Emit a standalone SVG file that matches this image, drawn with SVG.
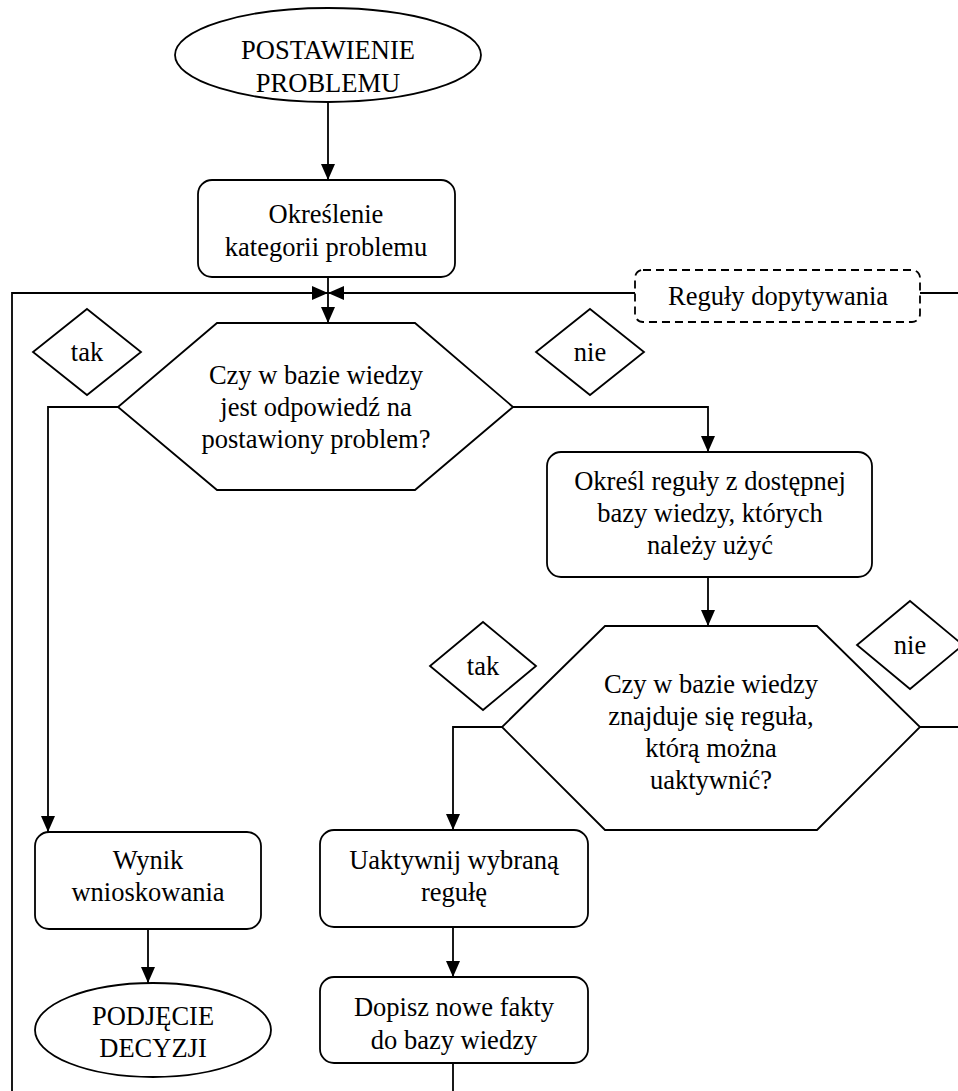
<svg xmlns="http://www.w3.org/2000/svg" width="958" height="1091" viewBox="0 0 958 1091">
<style>
.s{fill:#fff;stroke:#000;stroke-width:1.8}
.d{fill:#fff;stroke:#000;stroke-width:1.8;stroke-dasharray:8 5}
.c{fill:none;stroke:#000;stroke-width:1.8}
text{font-family:"Liberation Serif","Times New Roman",serif;font-size:26.5px;fill:#000;text-anchor:middle}
</style>
<defs>
<marker id="a" markerUnits="userSpaceOnUse" markerWidth="16" markerHeight="14" refX="16" refY="7" orient="auto">
<path d="M0,0 L16,7 L0,14 z" fill="#000"/>
</marker>
</defs>
<rect width="958" height="1091" fill="#fff"/>
<g id="connectors">
<path class="c" d="M328,102 L328,180" marker-end="url(#a)"/>
<path class="c" d="M328,277 L328,323" marker-end="url(#a)"/>
<path class="c" d="M12,1091 L12,293 L328,293" marker-end="url(#a)"/>
<path class="c" d="M635,293 L328,293" marker-end="url(#a)"/>
<path class="c" d="M958,293 L920,293"/>
<path class="c" d="M118,407 L48,407 L48,832" marker-end="url(#a)"/>
<path class="c" d="M513,407 L708,407 L708,452" marker-end="url(#a)"/>
<path class="c" d="M708,577 L708,626" marker-end="url(#a)"/>
<path class="c" d="M502,727 L453,727 L453,830" marker-end="url(#a)"/>
<path class="c" d="M920,727 L958,727"/>
<path class="c" d="M148,929 L148,983" marker-end="url(#a)"/>
<path class="c" d="M453,927 L453,977" marker-end="url(#a)"/>
<path class="c" d="M453,1063 L453,1091"/>
</g>
<g id="start">
<ellipse class="s" cx="328" cy="55" rx="153" ry="47"/>
<text x="328" y="59">POSTAWIENIE</text>
<text x="328" y="92">PROBLEMU</text>
</g>
<g id="category">
<rect class="s" x="198" y="180" width="257" height="97" rx="14"/>
<text x="326" y="223">Określenie</text>
<text x="326" y="256">kategorii problemu</text>
</g>
<g id="rules">
<rect class="d" x="635" y="270" width="285" height="52" rx="8"/>
<text x="778" y="305">Reguły dopytywania</text>
</g>
<g id="decision1">
<polygon class="s" points="217,323 415,323 513,407 415,490 217,490 118,407"/>
<text x="316" y="384">Czy w bazie wiedzy</text>
<text x="316" y="416">jest odpowiedź na</text>
<text x="316" y="448">postawiony problem?</text>
</g>
<g id="tak1">
<polygon class="s" points="87,309 141,352 87,395 33,352"/>
<text x="87" y="361">tak</text>
</g>
<g id="nie1">
<polygon class="s" points="590,309 644,352 590,395 536,352"/>
<text x="590" y="361">nie</text>
</g>
<g id="determine">
<rect class="s" x="547" y="452" width="325" height="125" rx="14"/>
<text x="710" y="490">Określ reguły z dostępnej</text>
<text x="710" y="522">bazy wiedzy, których</text>
<text x="710" y="554">należy użyć</text>
</g>
<g id="decision2">
<polygon class="s" points="605,626 817,626 920,727 817,830 605,830 502,727"/>
<text x="711" y="693">Czy w bazie wiedzy</text>
<text x="711" y="725">znajduje się reguła,</text>
<text x="711" y="757">którą można</text>
<text x="711" y="789">uaktywnić?</text>
</g>
<g id="tak2">
<polygon class="s" points="483,622 536,666 483,710 430,666"/>
<text x="483" y="675">tak</text>
</g>
<g id="nie2">
<polygon class="s" points="910,601 963,645 910,689 857,645"/>
<text x="910" y="654">nie</text>
</g>
<g id="result">
<rect class="s" x="35" y="832" width="226" height="97" rx="14"/>
<text x="148" y="869">Wynik</text>
<text x="148" y="901">wnioskowania</text>
</g>
<g id="activate">
<rect class="s" x="320" y="830" width="268" height="97" rx="14"/>
<text x="454" y="869">Uaktywnij wybraną</text>
<text x="454" y="901">regułę</text>
</g>
<g id="addfacts">
<rect class="s" x="320" y="977" width="268" height="86" rx="14"/>
<text x="454" y="1016">Dopisz nowe fakty</text>
<text x="454" y="1049">do bazy wiedzy</text>
</g>
<g id="end">
<ellipse class="s" cx="153" cy="1030" rx="118" ry="47"/>
<text x="153" y="1025">PODJĘCIE</text>
<text x="153" y="1057">DECYZJI</text>
</g>
</svg>
